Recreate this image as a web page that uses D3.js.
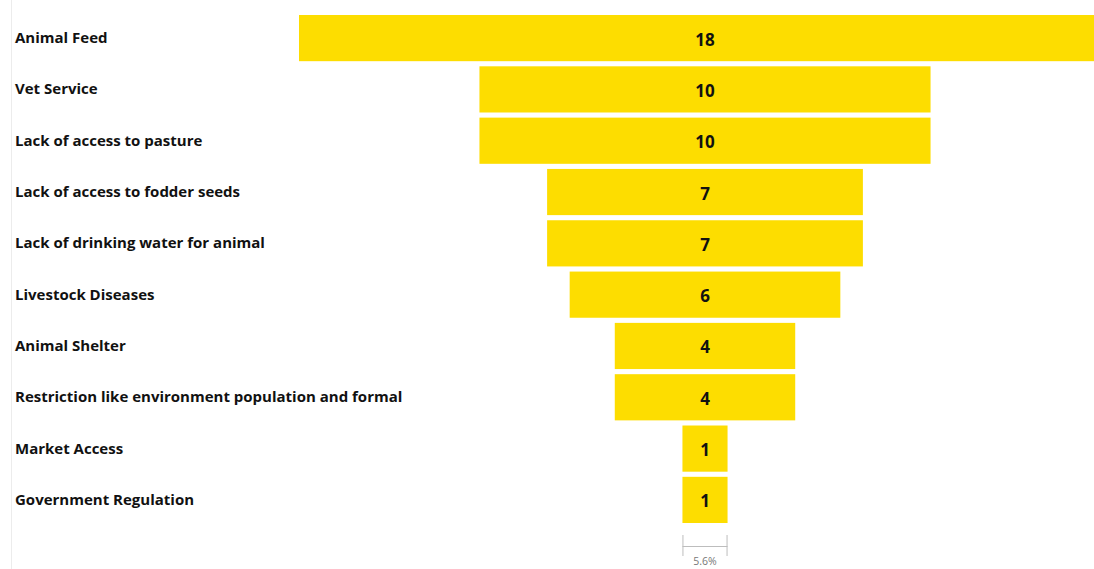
<!DOCTYPE html>
<html>
<head>
<meta charset="utf-8">
<script src="https://cdn.jsdelivr.net/npm/d3@7"></script>
<style>
  html, body { margin: 0; padding: 0; background: #fff; overflow: hidden; }
  svg { display: block; }
</style>
</head>
<body>
<svg id="chart" width="1094" height="569"></svg>
<script>
// Livestock constraints, ranked by number of mentions
const categories = [
  "Animal Feed",
  "Vet Service",
  "Lack of access to pasture",
  "Lack of access to fodder seeds",
  "Lack of drinking water for animal",
  "Livestock Diseases",
  "Animal Shelter",
  "Restriction like environment population and formal",
  "Market Access",
  "Government Regulation"
];
const counts = [18, 10, 10, 7, 7, 6, 4, 4, 1, 1];
const scaleLabel = "5.6%";

const W = 1094, H = 569;
const svg = d3.select("#chart");
const fontFamily = "'Open Sans', 'Noto Sans', 'DejaVu Sans', sans-serif";

const centerX = 705;
const rows = categories.map((c, i) => ({ cat: c, val: counts[i] }));

const y = d3.scaleBand()
  .domain(categories)
  .range([15, 523])
  .paddingInner(0.1)
  .paddingOuter(0);

const w = d3.scaleLinear()
  .domain([0, d3.max(counts)])
  .range([0, 812]);

// thin left divider
svg.append("line")
  .attr("x1", 11.5).attr("x2", 11.5)
  .attr("y1", 0).attr("y2", H)
  .attr("stroke", "#ececec").attr("stroke-width", 1);

// funnel bars, centered on a common axis
svg.append("g").selectAll("rect")
  .data(rows)
  .join("rect")
  .attr("x", d => centerX - w(d.val) / 2)
  .attr("y", d => y(d.cat))
  .attr("width", d => w(d.val))
  .attr("height", y.bandwidth())
  .attr("fill", "#FDDD00");

// category labels
svg.append("g").selectAll("text")
  .data(rows)
  .join("text")
  .attr("x", 15)
  .attr("y", d => y(d.cat) + y.bandwidth() / 2 - 1)
  .attr("dominant-baseline", "central")
  .attr("font-family", fontFamily)
  .attr("font-weight", 700)
  .attr("font-size", 15)
  .attr("fill", "#111")
  .text(d => d.cat);

// value labels
svg.append("g").selectAll("text")
  .data(rows)
  .join("text")
  .attr("x", centerX)
  .attr("y", d => y(d.cat) + y.bandwidth() / 2 + 1)
  .attr("text-anchor", "middle")
  .attr("dominant-baseline", "central")
  .attr("font-family", fontFamily)
  .attr("font-weight", 700)
  .attr("font-size", 17)
  .attr("fill", "#111")
  .text(d => d.val);

// scale bracket showing width of the smallest bar
const last = rows[rows.length - 1];
const bx0 = centerX - w(last.val) / 2, bx1 = centerX + w(last.val) / 2;
const bTop = 535, bBot = 556, bMid = 546.5;
const bracket = svg.append("g").attr("stroke", "#bdbdbd").attr("stroke-width", 1);
bracket.append("line").attr("x1", bx0 + 0.5).attr("x2", bx0 + 0.5).attr("y1", bTop).attr("y2", bBot);
bracket.append("line").attr("x1", bx1 - 0.5).attr("x2", bx1 - 0.5).attr("y1", bTop).attr("y2", bBot);
bracket.append("line").attr("x1", bx0).attr("x2", bx1).attr("y1", bMid).attr("y2", bMid);

svg.append("text")
  .attr("x", centerX)
  .attr("y", 565)
  .attr("text-anchor", "middle")
  .attr("font-family", fontFamily)
  .attr("font-size", 10.5)
  .attr("fill", "#777")
  .text(scaleLabel);
</script>
</body>
</html>
